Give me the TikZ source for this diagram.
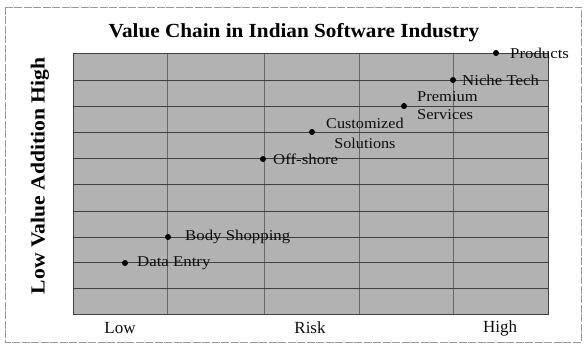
\documentclass[tikz,border=0pt]{standalone}
\usepackage{fontspec}
\setmainfont{Liberation Serif}
\begin{document}
\begin{tikzpicture}[x=1pt,y=-1pt,
  frame/.style={draw=black!40,line width=0.8pt,dash pattern=on 8pt off 1.5pt},
  plotfill/.style={fill=black!30},
  hgrid/.style={draw=black!75,line width=0.9pt},
  vgrid/.style={draw=black!60,line width=0.6pt},
  dot/.style={circle,fill=black,inner sep=0pt,minimum size=6pt},
  lbl/.style={anchor=west,inner sep=0pt,text=black!95,font=\fontsize{15}{18}\selectfont},
  axlbl/.style={inner sep=0pt,text=black!95,font=\fontsize{17}{20}\selectfont},
  ttl/.style={inner sep=0pt,text=black,font=\fontsize{20}{24}\selectfont\bfseries}]
\useasboundingbox (0,0) rectangle (585,344);
\draw[frame] (5,7) rectangle (581,342);
\fill[plotfill] (73,53) rectangle (548,314);
\foreach \x in {167,264,359,453} \draw[vgrid] (\x,53) -- (\x,314);
\foreach \y in {80,106,132,158,184,211,237,262,288} \draw[hgrid] (73,\y) -- (548,\y);
\draw[hgrid] (73,53) rectangle (548,314);
% title and axes
\node[ttl] (title) at (294,33) {\scalebox{1.06}[1]{Value Chain in Indian Software Industry}};
\node[ttl,rotate=90] (ylab) at (40,176) {\scalebox{1.08}[1]{Low Value Addition High}};
\node[axlbl] (xlow) at (120,328) {Low};
\node[axlbl] (xrisk) at (310,328) {Risk};
\node[axlbl] (xhigh) at (500,328) {High};
% points
\node[dot] (p1) at (125,263) {};
\node[dot] (p2) at (168,237) {};
\node[dot] (p3) at (263,159) {};
\node[dot] (p4) at (312,132) {};
\node[dot] (p5) at (404,106) {};
\node[dot] (p6) at (453,80) {};
\node[dot] (p7) at (496,53) {};
\node[lbl] (l1) at (137,263) {\scalebox{1.12}[1]{Data Entry}};
\node[lbl] (l2) at (185,237) {\scalebox{1.12}[1]{Body Shopping}};
\node[lbl] (l3) at (273,159) {\scalebox{1.12}[1]{Off-shore}};
\node[lbl,align=center,font=\fontsize{15}{20}\selectfont] (l4) at (326,133) {\scalebox{1.08}[1]{Customized}\\\scalebox{1.08}[1]{Solutions}};
\node[lbl,align=left,font=\fontsize{15}{18}\selectfont] (l5) at (417,106) {\scalebox{1.1}[1]{Premium}\\\scalebox{1.1}[1]{Services}};
\node[lbl] (l6) at (462,80) {\scalebox{1.12}[1]{Niche Tech}};
\node[lbl] (l7) at (510,53) {\scalebox{1.12}[1]{Products}};
\end{tikzpicture}
\end{document}
